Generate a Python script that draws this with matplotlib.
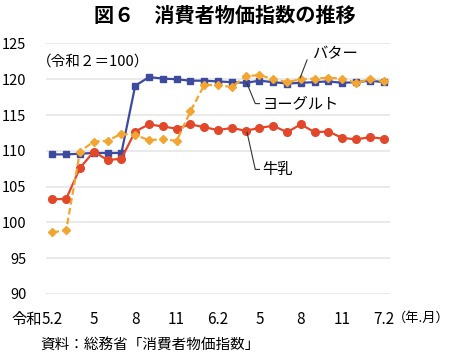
import matplotlib
matplotlib.use("Agg")
import matplotlib.pyplot as plt
import numpy as np

plt.rcParams['font.family'] = ['Noto Sans CJK JP', 'DejaVu Sans']

# 令和5年2月〜令和7年2月（月次）
months = np.arange(25)
tick_pos = [0, 3, 6, 9, 12, 15, 18, 21, 24]
tick_labels = ['5.2', '5', '8', '11', '6.2', '5', '8', '11', '7.2']

butter = [109.5, 109.5, 109.6, 109.7, 109.7, 109.7, 119.1, 120.3, 120.1, 120.0,
          119.8, 119.8, 119.7, 119.6, 119.5, 119.8, 119.6, 119.4, 119.5, 119.6,
          119.7, 119.5, 119.6, 119.8, 119.6]
milk = [103.2, 103.3, 107.6, 109.9, 108.7, 108.9, 112.7, 113.7, 113.4, 113.1,
        113.7, 113.3, 112.9, 113.2, 112.8, 113.2, 113.5, 112.6, 113.7, 112.6,
        112.7, 111.8, 111.6, 111.9, 111.7]
yogurt = [98.6, 98.9, 109.9, 111.3, 111.4, 112.4, 112.2, 111.5, 111.6, 111.4,
          115.5, 119.2, 119.2, 118.9, 120.4, 120.6, 120.0, 119.6, 120.0, 120.1,
          120.2, 120.1, 119.5, 120.0, 119.7]

fig = plt.figure(figsize=(4.5, 3.55), dpi=100)
ax = fig.add_axes([0.102, 0.172, 0.765, 0.7055])

ax.plot(months, butter, color='#3d4b9f', lw=1.6, marker='s', ms=5, zorder=3)
ax.plot(months, milk, color='#e2472a', lw=1.6, marker='o', ms=5.5, zorder=4)
ax.plot(months, yogurt, color='#f2a631', lw=1.6, ls='--', dashes=(3, 1.5),
        marker='D', ms=4, zorder=5)

ax.set_xlim(-0.47, 24.47)
ax.set_ylim(90, 125)
ax.set_yticks(range(90, 126, 5))
ax.grid(axis='y', color='#e6e6e6', lw=1.2)
ax.set_axisbelow(True)
for s in ax.spines.values():
    s.set_visible(False)
ax.tick_params(axis='y', length=0, pad=14, labelsize=10.5)
ax.set_xticks(tick_pos)
ax.set_xticklabels(tick_labels)
ax.tick_params(axis='x', length=0, pad=12, labelsize=11)

ax.annotate('令和', xy=(0, 0), xycoords=('data', 'axes fraction'),
            xytext=(-7.5, -12), textcoords='offset points', ha='right', va='top',
            fontsize=11)
fig.text(0.874, 0.104, '（年.月）', ha='left', va='center', fontsize=9.5)

ax.text(-1.1, 122.4, '（令和２＝100）', ha='left', va='center', fontsize=10.5)

# 系列名と引出線
ax.plot([18.45, 17.95], [122.7, 120.2], color='#333333', lw=0.8, zorder=6)
ax.text(18.8, 123.6, 'バター', ha='left', va='center', fontsize=11)
ax.plot([15.0, 14.7, 14.1], [116.6, 116.6, 119.4], color='#333333', lw=0.8, zorder=6)
ax.text(15.2, 116.6, 'ヨーグルト', ha='left', va='center', fontsize=11)
ax.plot([15.0, 14.7, 14.1], [107.4, 107.4, 112.6], color='#333333', lw=0.8, zorder=6)
ax.text(15.2, 107.4, '牛乳', ha='left', va='center', fontsize=11)

fig.text(0.5, 0.957, '図６　消費者物価指数の推移', ha='center', va='center',
         fontsize=14.5, fontweight='bold')
fig.text(0.09, 0.03, '資料：総務省「消費者物価指数」', ha='left', va='center', fontsize=10.5)

fig.savefig('out.png', dpi=100)
